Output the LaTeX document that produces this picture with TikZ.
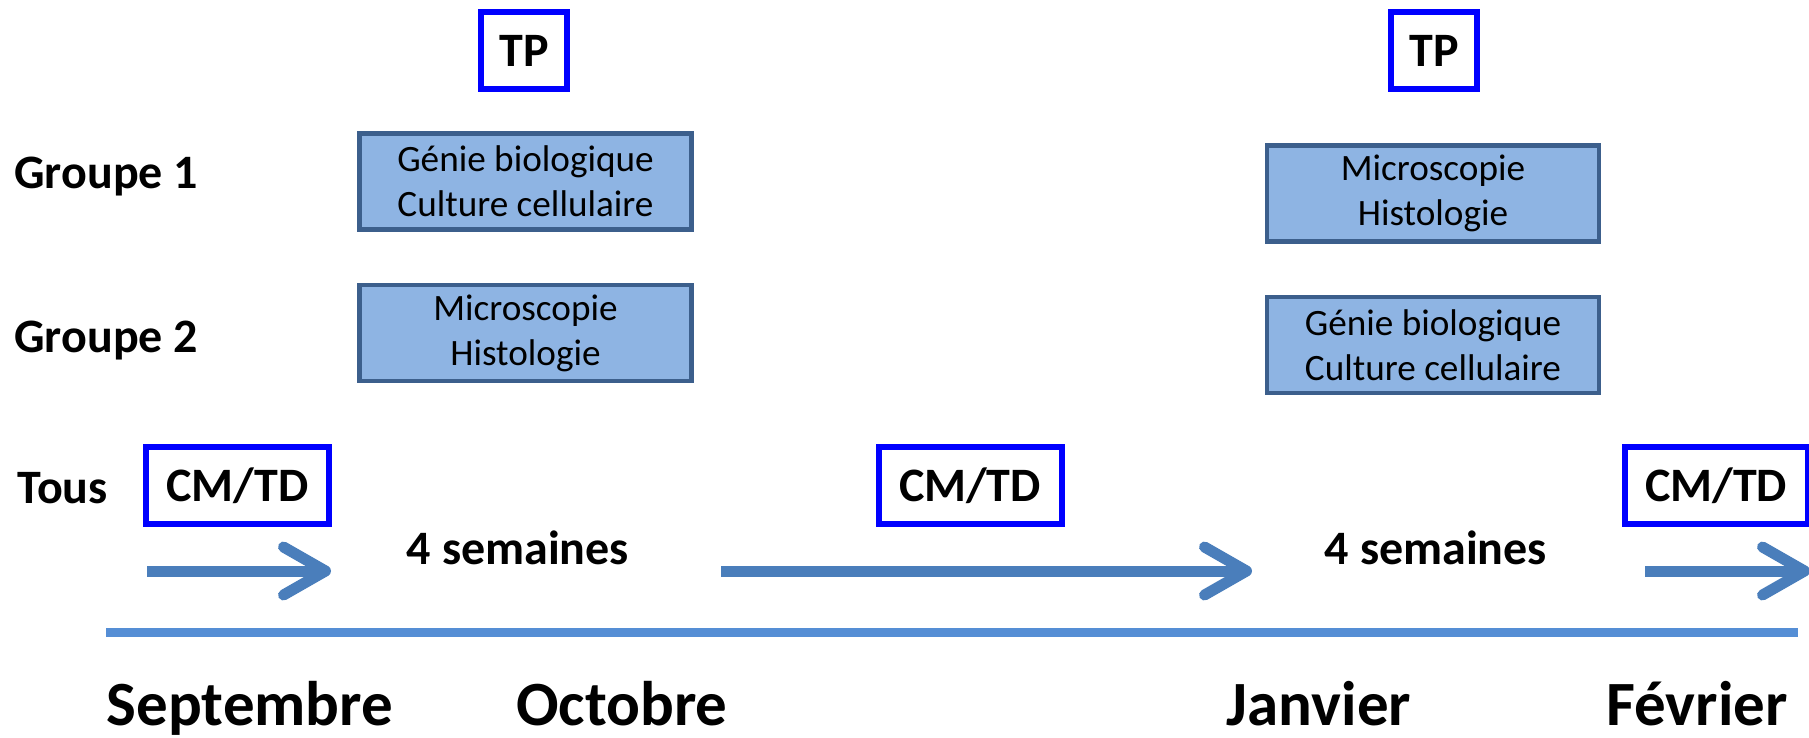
\documentclass[tikz,border=0pt]{standalone}
\usepackage{fontspec}
\setmainfont{Carlito}
\usetikzlibrary{arrows.meta}
\definecolor{boxfill}{HTML}{8EB4E3}
\definecolor{boxline}{HTML}{3C5F8C}
\definecolor{arrowblue}{HTML}{4A7EBB}
\definecolor{lineblue}{HTML}{558ED5}
\begin{document}
\begin{tikzpicture}[x=0.5pt,y=-0.5pt,
  tpbox/.style={draw=blue,line width=3pt,fill=white,inner sep=0pt,minimum height=38.5pt,minimum width=#1,font=\fontsize{24}{28}\selectfont\bfseries},
  tpbox/.default=43pt,
  groupbox/.style={draw=boxline,fill=boxfill,line width=2.25pt,inner sep=0pt,minimum width=166pt,minimum height=48pt,align=center,font=\fontsize{18.6}{22.5}\selectfont},
  lbl/.style={font=\fontsize{24}{28}\selectfont\bfseries,inner sep=0pt},
  month/.style={font=\fontsize{31.5}{36}\selectfont\bfseries,inner sep=0pt,anchor=base},
  period/.style={line width=5.5pt,draw=arrowblue,-{Straight Barb[length=21pt,width=24pt,round]}}]

\useasboundingbox (0,0) rectangle (1809,738);

\node[lbl,anchor=base west] (grA) at (14,188) {Groupe 1};
\node[lbl,anchor=base west] (grB) at (14,352) {Groupe 2};
\node[lbl,anchor=base west] (tous) at (17,503) {Tous};

\node[tpbox] (tpA) at (524,51) {TP};
\node[tpbox] (tpB) at (1434,51) {TP};

\node[groupbox] (bioA) at (525.5,181.5) {Génie biologique\\Culture cellulaire};
\node[groupbox] (microA) at (525.5,333) {Microscopie\\Histologie};
\node[groupbox] (microB) at (1433,193.5) {Microscopie\\Histologie};
\node[groupbox] (bioB) at (1433,345) {Génie biologique\\Culture cellulaire};

\node[tpbox=91.5pt] (cmA) at (237.5,485.5) {CM/TD};
\node[tpbox=91.5pt] (cmB) at (970,485.5) {CM/TD};
\node[tpbox=91.5pt] (cmC) at (1716,485.5) {CM/TD};

\node[lbl,anchor=base] (semA) at (518,564) {4 semaines};
\node[lbl,anchor=base] (semB) at (1436,564) {4 semaines};

\coordinate (a1) at (147,571);
\coordinate (a2) at (331,571);
\coordinate (b1) at (721,571);
\coordinate (b2) at (1252,571);
\coordinate (c1) at (1645,571);
\coordinate (c2) at (1810,571);
\draw[period] (a1) -- (a2);
\draw[period] (b1) -- (b2);
\draw[period] (c1) -- (c2);

\coordinate (t1) at (106,632);
\coordinate (t2) at (1798,632);
\draw[lineblue,line width=4.5pt] (t1) -- (t2);

\node[month] (sep) at (250,725) {Septembre};
\node[month] (oct) at (622,725) {Octobre};
\node[month] (jan) at (1319,725) {Janvier};
\node[month] (fev) at (1697,725) {Février};

\end{tikzpicture}
\end{document}
